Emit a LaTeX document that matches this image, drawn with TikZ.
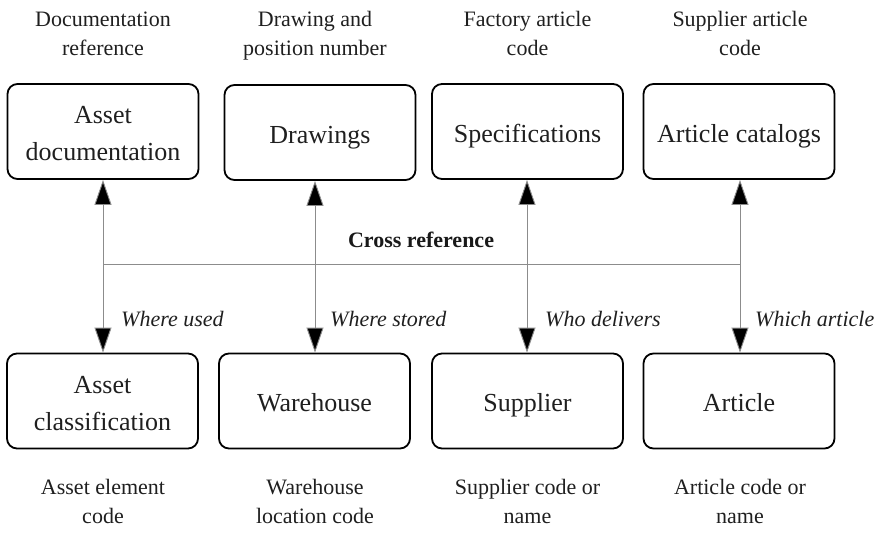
\documentclass[tikz,border=0pt]{standalone}
\usepackage{fontspec}
\setmainfont{Liberation Serif}
\usetikzlibrary{arrows.meta}
% invisible strut that fixes the line height inside the boxes
\newcommand\boxstrut{\rule[-8pt]{0pt}{37pt}}
\begin{document}
\begin{tikzpicture}[x=1pt,y=-1pt,
  box/.style={draw=black, line width=1.8pt, rounded corners=10pt, align=center,
    minimum width=191pt, minimum height=95pt, inner sep=0pt,
    font=\fontsize{26}{37}\selectfont, text=black!88},
  note/.style={align=center, font=\fontsize{22}{29}\selectfont, text=black!88},
  tag/.style={anchor=west, inner sep=0pt, font=\fontsize{22}{29}\selectfont\itshape, text=black!88},
  link/.style={draw=black!45, line width=0.9pt},
  tip/.style={-{Triangle[length=25pt,width=17pt,fill=black]}}]
\useasboundingbox (0,0) rectangle (882,533);

% upper row of sources
\node[box] (doc)  at (103,131.5) {\boxstrut Asset\\\boxstrut documentation};
\node[box] (drw)  at (320,132.5) {\boxstrut Drawings};
\node[box] (spec) at (527.5,131.5) {\boxstrut Specifications};
\node[box] (cat)  at (739,131.5) {\boxstrut Article catalogs};

% lower row of registers
\node[box] (cls) at (102.5,401) {\boxstrut Asset\\\boxstrut classification};
\node[box] (wh)  at (314.5,401) {\boxstrut Warehouse};
\node[box] (sup) at (527.5,401) {\boxstrut Supplier};
\node[box] (art) at (739,401) {\boxstrut Article};

% key descriptions above and below
\node[note] (ndoc)  at (103,35)   {\strut Documentation\\\strut reference};
\node[note] (ndrw)  at (315,35)   {\strut Drawing and\\\strut position number};
\node[note] (nspec) at (527.5,35) {\strut Factory article\\\strut code};
\node[note] (ncat)  at (740,35)   {\strut Supplier article\\\strut code};
\node[note] (ncls)  at (103,503)  {\strut Asset element\\\strut code};
\node[note] (nwh)   at (315,503)  {\strut Warehouse\\\strut location code};
\node[note] (nsup)  at (527.5,503) {\strut Supplier code or\\\strut name};
\node[note] (nart)  at (740,503)  {\strut Article code or\\\strut name};

% cross reference bus
\coordinate (j1) at (103,264);
\coordinate (j2) at (315,264);
\coordinate (j3) at (527,264);
\coordinate (j4) at (740,264);
\draw[link] (j1) -- (j4);
\node[font=\fontsize{22}{29}\selectfont\bfseries, text=black!90] (xref) at (421,240) {Cross reference};

\foreach \j/\t/\b in {j1/doc/cls, j2/drw/wh, j3/spec/sup, j4/cat/art}{
  \draw[link,tip] (\j) -- (\j |- \t.south);
  \draw[link,tip] (\j) -- (\j |- \b.north);
}

% relation labels
\node[tag] (lused)   at (121,319) {Where used};
\node[tag] (lstored) at (330,319) {Where stored};
\node[tag] (ldeliv)  at (545,319) {Who delivers};
\node[tag] (lwhich)  at (755,319) {Which article};
\end{tikzpicture}
\end{document}
